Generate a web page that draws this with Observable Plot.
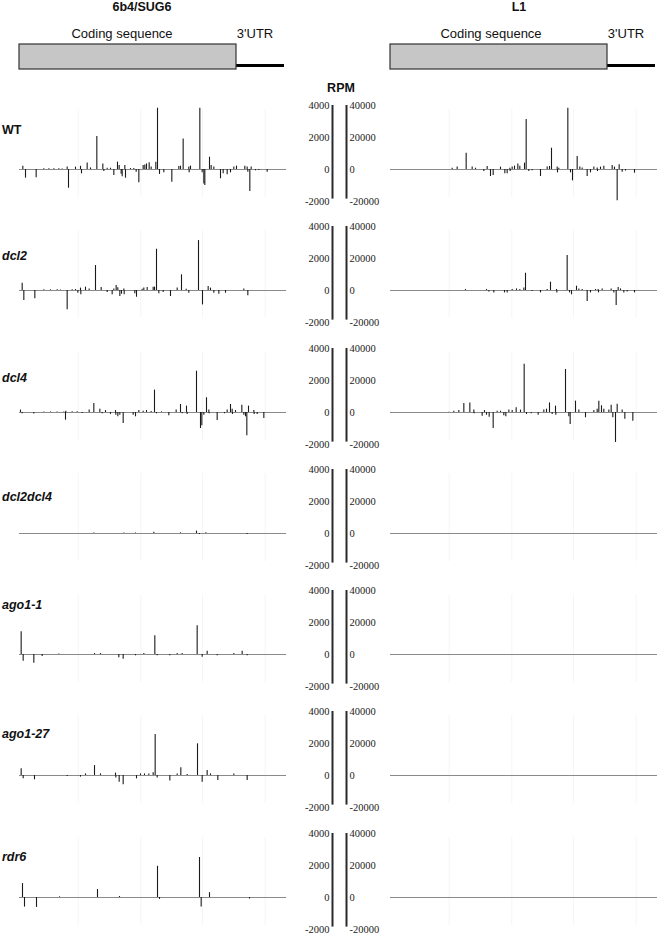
<!DOCTYPE html>
<html><head><meta charset="utf-8">
<script src="https://cdn.jsdelivr.net/npm/d3@7"></script>
<script src="https://cdn.jsdelivr.net/npm/@observablehq/plot@0.6"></script>
<style>
body{margin:0;background:#fff;}
#fig{position:relative;width:666px;height:945px;overflow:hidden;font-family:"Liberation Sans",Arial,sans-serif;color:#111;}
.abs{position:absolute;}
.t{position:absolute;white-space:nowrap;line-height:1;}
</style></head><body><div id="fig"></div>
<script>
// ---------- data ----------
const rows = ["WT","dcl2","dcl4","dcl2dcl4","ago1-1","ago1-27","rdr6"];
const geneNames = ["6b4/SUG6","L1"];
const regionLabels = ["Coding sequence","3'UTR"];
const cdsLength = 651, transcriptLength = 795, axisLength = 801;
const rpmTicks = [4000,2000,0,-2000];
const l1Ticks = [40000,20000,0,-20000];
const gridPos = [176,364,549,737];

// [position, RPM] ; positive = sense, negative = antisense
const wt_SUG6 = [[10,200],[18,-540],[50,-520],[73,40],[88,40],[103,40],[118,40],[128,30],[143,150],[147,-1170],[168,150],[183,200],[186,-270],[203,400],[213,100],[232,2060],[250,350],[253,-120],[263,80],[273,80],[283,-375],[294,460],[299,250],[305,-300],[308,-460],[316,250],[318,-540],[333,60],[343,60],[350,-170],[358,-830],[371,250],[376,280],[381,350],[389,420],[395,150],[409,460],[414,3830],[420,-310],[433,-200],[457,-790],[478,190],[483,210],[491,1910],[508,150],[509,-200],[513,210],[541,3830],[548,-200],[553,-900],[556,-1000],[570,770],[575,250],[583,150],[603,-580],[611,-270],[623,-330],[633,-210],[643,150],[651,210],[676,210],[683,150],[685,-170],[691,-1370],[695,150],[708,-80],[718,-60],[743,-170]];
const wt_L1 = [[185,800],[200,1500],[227,10200],[245,1500],[255,800],[280,-1250],[290,1900],[300,-4400],[308,-3700],[330,1500],[343,-2700],[350,-2700],[358,800],[359,-1250],[365,1500],[372,2100],[382,3500],[388,2100],[402,4000],[407,31200],[415,-1250],[425,-850],[450,-4400],[470,1500],[477,1900],[483,13300],[500,1500],[501,-2100],[505,800],[532,38300],[540,-2100],[546,-7100],[560,8100],[568,1500],[575,1000],[590,-4400],[600,-2100],[610,1500],[620,1000],[621,-1250],[630,1500],[640,2100],[665,2500],[672,1500],[680,-19600],[686,2900],[695,-1700],[705,-1000],[732,-2300]];
const dcl2_SUG6 = [[8,460],[13,-625],[46,-520],[73,40],[93,40],[113,40],[123,30],[143,-1210],[158,40],[168,60],[175,-170],[183,150],[184,-270],[198,210],[209,100],[228,1560],[245,190],[263,-125],[278,-270],[283,100],[290,310],[295,170],[301,-375],[306,-230],[313,100],[314,-270],[346,-200],[351,-420],[368,80],[373,150],[383,190],[401,210],[405,210],[411,2580],[418,-210],[431,-125],[453,-375],[473,150],[486,980],[500,80],[508,-170],[537,3120],[549,-900],[566,250],[573,150],[583,-170],[598,-230],[618,-170],[673,100],[685,-330]];
const dcl2_L1 = [[225,600],[288,600],[295,-1000],[310,-1500],[342,-1500],[350,-1500],[365,600],[378,1000],[388,600],[400,1500],[405,10800],[425,-600],[450,-1500],[470,600],[480,5200],[498,600],[499,-1500],[530,21800],[537,-1500],[543,-2700],[558,2700],[565,1000],[575,600],[590,-6900],[600,-1500],[615,600],[623,600],[624,-1500],[635,1000],[662,1000],[670,-1500],[677,-9400],[683,1900],[690,1000],[700,-1500],[710,-1000],[732,-1500]];
const dcl4_SUG6 = [[3,150],[8,-80],[43,-100],[73,30],[93,30],[113,30],[133,30],[138,-480],[139,80],[158,40],[173,40],[188,-60],[209,150],[223,560],[241,210],[248,-80],[258,120],[273,-120],[288,120],[289,-170],[295,-270],[301,-170],[311,-690],[341,-170],[348,-270],[358,120],[371,80],[381,120],[395,60],[405,1400],[411,-80],[426,40],[448,-210],[470,150],[483,500],[488,-80],[501,400],[503,-120],[531,2580],[543,-1000],[547,-830],[553,-170],[561,920],[568,150],[569,-80],[593,-500],[615,-80],[623,150],[633,500],[638,210],[639,-120],[648,120],[667,460],[673,-170],[678,-270],[682,-1460],[687,400],[703,120],[704,-120],[713,-120],[733,-375]];
const dcl4_L1 = [[175,200],[190,800],[205,1200],[220,5600],[238,6000],[250,1500],[251,-800],[275,-2300],[282,1200],[288,-1700],[296,-2900],[308,-10000],[320,800],[330,800],[340,-2100],[346,-2700],[355,1500],[365,1200],[377,2900],[390,1500],[401,30200],[408,-1200],[422,-800],[443,-1700],[460,1500],[468,2100],[477,6000],[485,-1200],[495,4000],[496,-1700],[525,26900],[535,-2700],[539,-7500],[555,7100],[565,1500],[585,-3300],[610,1200],[620,2100],[625,7100],[633,4200],[640,2100],[655,1500],[662,4600],[667,-3300],[675,-18700],[680,5200],[695,1500],[703,-4200],[727,-5400]];
const dcl2dcl4_SUG6 = [[223,30],[313,30],[348,30],[403,80],[483,40],[531,150],[540,-60],[559,40],[683,-60]];
const dcl2dcl4_L1 = [];
const ago1_1_SUG6 = [[5,1420],[11,-420],[43,-540],[68,-120],[118,30],[225,60],[243,60],[298,-210],[311,-290],[348,-80],[373,60],[406,1170],[413,-80],[451,-80],[473,60],[488,60],[533,1790],[548,-170],[563,210],[593,-80],[643,60],[668,210],[683,-80]];
const ago1_1_L1 = [];
const ago1_27_SUG6 = [[5,420],[11,-210],[45,-270],[143,-60],[183,-100],[198,100],[225,620],[243,100],[288,150],[289,-150],[299,-420],[311,-580],[351,-210],[363,100],[375,100],[388,100],[401,170],[407,2560],[413,-150],[451,-350],[473,100],[484,480],[503,60],[534,1980],[548,-420],[563,310],[573,100],[595,-310],[643,100],[683,-310]];
const ago1_27_L1 = [];
const rdr6_SUG6 = [[9,870],[15,-600],[51,-620],[120,40],[234,500],[300,60],[414,1950],[420,-120],[540,2500],[545,-600],[570,300],[690,-100]];
const rdr6_L1 = [];

const sug6Series = [wt_SUG6, dcl2_SUG6, dcl4_SUG6, dcl2dcl4_SUG6, ago1_1_SUG6, ago1_27_SUG6, rdr6_SUG6];
const l1Series = [wt_L1, dcl2_L1, dcl4_L1, dcl2dcl4_L1, ago1_1_L1, ago1_27_L1, rdr6_L1];

// ---------- layout ----------
const fig = document.getElementById("fig");
const rowBase = [169, 290, 411.5, 532.5, 653.5, 775, 897];
const rowLabelBase = [134.5, 261, 383, 502, 610, 739, 862];
const colLeft = [17, 388];

function text(str, x, baseline, size, {anchor="start", weight="normal", style="normal", family=null} = {}) {
  const el = document.createElement("div");
  el.className = "t";
  el.textContent = str;
  el.style.fontSize = size + "px";
  el.style.fontWeight = weight;
  el.style.fontStyle = style;
  if (family) el.style.fontFamily = family;
  el.style.top = (baseline - 0.846 * size) + "px";
  el.style.left = x + "px";
  if (anchor === "middle") el.style.transform = "translateX(-50%)";
  fig.appendChild(el);
}
function place(node, left, top) {
  node.classList.add("abs");
  node.style.left = left + "px";
  node.style.top = top + "px";
  fig.appendChild(node);
}

// titles
text(geneNames[0], 142, 11.5, 12.5, {anchor: "middle", weight: "bold"});
text(geneNames[1], 519, 11.5, 12.5, {anchor: "middle", weight: "bold"});
// gene diagram labels
text(regionLabels[0], 122, 38, 13, {anchor: "middle"});
text(regionLabels[1], 255, 38, 13, {anchor: "middle"});
text(regionLabels[0], 491, 38, 13, {anchor: "middle"});
text(regionLabels[1], 626, 38, 13, {anchor: "middle"});
text("RPM", 341, 93, 12.5, {anchor: "middle", weight: "bold"});

// gene diagrams
function geneDiagram() {
  return Plot.plot({
    width: 271, height: 27, marginLeft: 2, marginRight: 2, marginTop: 1, marginBottom: 1,
    x: {domain: [0, axisLength], axis: null},
    y: {domain: [0, 1], axis: null},
    style: {background: "transparent", overflow: "visible"},
    marks: [
      Plot.ruleY([0.16], {x1: cdsLength, x2: transcriptLength, stroke: "#000", strokeWidth: 3}),
      Plot.rect([{a: 0, b: cdsLength}], {x1: "a", x2: "b", y1: 0, y2: 1, fill: "#c6c6c6", stroke: "#333", strokeWidth: 1.2})
    ]
  });
}
place(geneDiagram(), colLeft[0], 43);
place(geneDiagram(), colLeft[1], 43);

function panel(data, scaleMax) {
  const k = scaleMax / 4000;
  return Plot.plot({
    width: 271, height: 104, marginLeft: 2, marginRight: 2, marginTop: 4, marginBottom: 4,
    x: {domain: [0, axisLength], axis: null},
    y: {domain: [-2000 * k, 4000 * k], axis: null},
    style: {background: "transparent", overflow: "visible"},
    marks: [
      Plot.ruleX(gridPos, {y1: -1750 * k, y2: 3750 * k, stroke: "#f5f5f5", strokeWidth: 1}),
      Plot.ruleY([0], {stroke: "#8a8a8a", strokeWidth: 1}),
      Plot.ruleX(data, {x: d => d[0], y1: 0, y2: d => d[1], stroke: "#1a1a1a", strokeWidth: 1.1})
    ]
  });
}

const serif = "'Liberation Serif', 'Times New Roman', serif";
function rpmAxis() {
  return Plot.plot({
    width: 100, height: 104, marginLeft: 0, marginRight: 0, marginTop: 4, marginBottom: 4,
    x: {domain: [0, 100], axis: null},
    y: {domain: [-2000, 4000], axis: null},
    style: {background: "transparent", overflow: "visible", fontFamily: serif},
    marks: [
      Plot.ruleX([42, 56], {y1: -1850, y2: 4000, stroke: "#2a2a2a", strokeWidth: 2}),
      Plot.text(rpmTicks, {x: 42, y: d => d, dx: -3, text: d => String(d), textAnchor: "end", fontFamily: serif, fontSize: 10.5, fill: "#222"}),
      Plot.text(l1Ticks, {x: 56, y: d => d / 10, dx: 3, text: d => String(d), textAnchor: "start", fontFamily: serif, fontSize: 10.5, fill: "#222"})
    ]
  });
}

rows.forEach((name, i) => {
  const top = rowBase[i] - 68;
  place(panel(sug6Series[i], 4000), colLeft[0], top);
  place(panel(l1Series[i], 40000), colLeft[1], top);
  place(rpmAxis(), 290, top);
  text(name, 2, rowLabelBase[i], 12.5, {weight: "bold", style: i === 0 ? "normal" : "italic"});
});
</script></body></html>
